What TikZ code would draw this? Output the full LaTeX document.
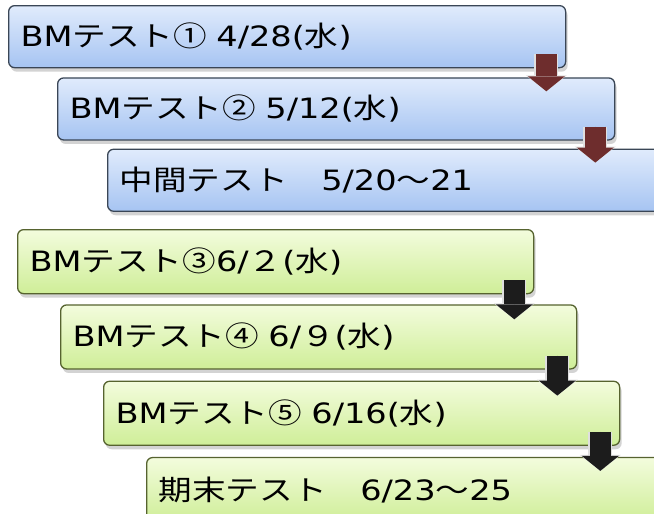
\documentclass[tikz,border=0pt]{standalone}
\usepackage{fontspec}
\setmainfont{DejaVu Sans}[FakeStretch=1.2]
\newfontfamily\jpfont{Noto Sans CJK JP}[FakeStretch=1.2]
\usetikzlibrary{positioning,shadows,arrows.meta}
\definecolor{bluetop}{HTML}{E0EBFC}
\definecolor{bluebot}{HTML}{A6C4F2}
\definecolor{blueline}{HTML}{3A4656}
\definecolor{greentop}{HTML}{F3FCDD}
\definecolor{greenbot}{HTML}{CFEE98}
\definecolor{greenline}{HTML}{56632F}
\definecolor{arrowred}{HTML}{6E2D2D}
\definecolor{arrowblack}{HTML}{1C1C1C}
\tikzset{
  testbox/.style   = {draw, line width=1.3pt, rectangle, rounded corners=6pt, align=left,
                      inner xsep=12pt, inner ysep=0pt, font=\fontsize{28}{34}\selectfont,
                      drop shadow={shadow xshift=2pt, shadow yshift=-4pt, opacity=0.35}},
  bluebox/.style   = {testbox, draw=blueline, top color=bluetop, bottom color=bluebot,
                      minimum height=62pt, text width=533pt},
  greenbox/.style  = {testbox, draw=greenline, top color=greentop, bottom color=greenbot,
                      minimum height=64pt, text width=492pt},
  downarrow/.style = {line width=21pt, -{Triangle[length=15pt, width=37pt, line width=0pt]},
                      preaction={draw=gray!25, line width=24pt, -{Triangle[length=16pt, width=41pt, line width=0pt]}}},
  redarrow/.style  = {downarrow, draw=arrowred, fill=arrowred},
  blackarrow/.style = {downarrow, draw=arrowblack, fill=arrowblack}
}

\begin{document}
\begin{tikzpicture}[x=1pt, y=-1pt]
\useasboundingbox (0,0) rectangle (654,514);
\clip (0,0) rectangle (654,514);

% Midterm block
\node [bluebox, anchor=north west] (bm1) at (8,5) {BM{\jpfont テスト①} 4/28({\jpfont 水})};
\node [bluebox, below right=9pt and 49pt of bm1.south west] (bm2) {BM{\jpfont テスト②} 5/12({\jpfont 水})};
\node [bluebox, below right=8pt and 50pt of bm2.south west] (mid) {{\jpfont 中間テスト　}5/20{\jpfont ～}21};

% Final block
\node [greenbox, anchor=north west] (bm3) at (17,229) {BM{\jpfont テスト③}6/{\jpfont ２}({\jpfont 水})};
\node [greenbox, below right=10pt and 43pt of bm3.south west] (bm4) {BM{\jpfont テスト④} 6/{\jpfont ９}({\jpfont 水})};
\node [greenbox, below right=11pt and 43pt of bm4.south west] (bm5) {BM{\jpfont テスト⑤} 6/16({\jpfont 水})};
\node [greenbox, below right=11pt and 43pt of bm5.south west] (fin) {{\jpfont 期末テスト　}6/23{\jpfont ～}25};

% Arrows
\coordinate (a1) at ([xshift=-20pt, yshift=14pt]bm1.south east);
\coordinate (t1) at (a1 |- bm2.north);
\coordinate (a2) at ([xshift=-20pt, yshift=14pt]bm2.south east);
\coordinate (t2) at (a2 |- mid.north);
\coordinate (a3) at ([xshift=-20pt, yshift=14pt]bm3.south east);
\coordinate (t3) at (a3 |- bm4.north);
\coordinate (a4) at ([xshift=-20pt, yshift=14pt]bm4.south east);
\coordinate (t4) at (a4 |- bm5.north);
\coordinate (a5) at ([xshift=-20pt, yshift=14pt]bm5.south east);
\coordinate (t5) at (a5 |- fin.north);

\draw [redarrow] (a1) -- ([yshift=-14pt]t1);
\draw [redarrow] (a2) -- ([yshift=-14pt]t2);
\draw [blackarrow] (a3) -- ([yshift=-15pt]t3);
\draw [blackarrow] (a4) -- ([yshift=-15pt]t4);
\draw [blackarrow] (a5) -- ([yshift=-14pt]t5);

\end{tikzpicture}
\end{document}
